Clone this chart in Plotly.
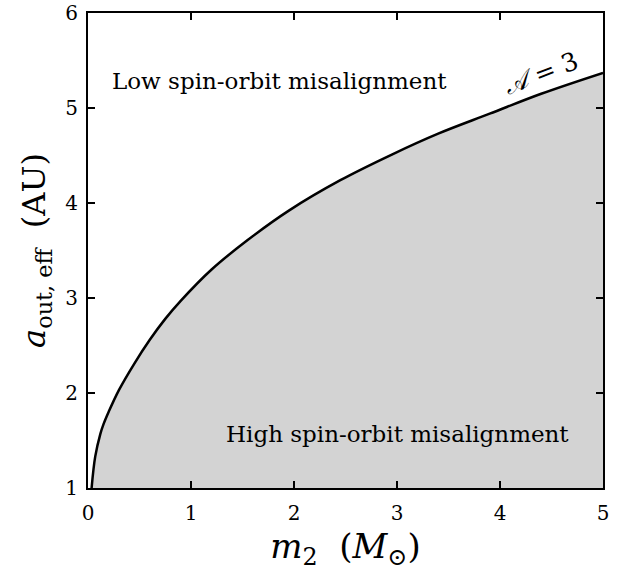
import plotly.graph_objects as go

# Curve A = 3
m2 = [0.035, 0.07, 0.12, 0.15, 0.2, 0.3, 0.45, 0.6, 0.75, 0.9, 1.2, 1.55, 1.95, 2.45, 2.95, 3.4, 3.9, 4.4, 5.0]
a_out = [1.00, 1.33, 1.57, 1.67, 1.80, 2.03, 2.31, 2.56, 2.78, 2.97, 3.30, 3.61, 3.92, 4.24, 4.51, 4.73, 4.94, 5.15, 5.37]

x_ticks = [0, 1, 2, 3, 4, 5]
y_ticks = [1, 2, 3, 4, 5, 6]

SERIF = "DejaVu Serif"

fig = go.Figure()
fig.add_trace(go.Scatter(
    x=m2, y=a_out, mode="lines",
    line=dict(color="black", width=2.5, shape="spline", smoothing=1.0),
    fill="tozeroy", fillcolor="#d3d3d3",
    showlegend=False, hoverinfo="skip",
))

axis_common = dict(
    showline=True, linecolor="black", linewidth=2, mirror="ticks",
    ticks="inside", ticklen=7, tickwidth=1.5, tickcolor="black",
    showgrid=False, zeroline=False, automargin=False,
    ticklabeloverflow="allow",
    tickfont=dict(family=SERIF, size=20, color="black"),
)

fig.update_layout(
    width=623, height=571,
    margin=dict(l=88, r=20, t=13, b=83, autoexpand=False),
    plot_bgcolor="white", paper_bgcolor="white",
    xaxis=dict(range=[0, 5], tickvals=x_ticks, ticklabelstandoff=6,
               title=dict(text="<i>m</i><sub>2</sub>  (<i>M</i><sub>⊙</sub>)",
                          font=dict(family=SERIF, size=34, color="black"), standoff=10),
               **axis_common),
    yaxis=dict(range=[1, 6], tickvals=y_ticks, ticklabelstandoff=4,
               title=dict(text="<i>a</i><sub>out, eff</sub>  (AU)",
                          font=dict(family=SERIF, size=32, color="black"), standoff=10),
               **axis_common),
    annotations=[
        dict(x=1.864, y=5.284, xref="x", yref="y", text="Low spin-orbit misalignment",
             showarrow=False, font=dict(family=SERIF, size=23, color="black")),
        dict(x=3.0, y=1.568, xref="x", yref="y", text="High spin-orbit misalignment",
             showarrow=False, font=dict(family=SERIF, size=23, color="black")),
        dict(x=4.40, y=5.36, xref="x", yref="y", text="<i>𝒜</i> = 3",
             showarrow=False, textangle=-21,
             font=dict(family=SERIF, size=25, color="black")),
    ],
)

fig.write_html("out.html", config={"displayModeBar": False},
               post_script="document.body.style.margin='0';")
